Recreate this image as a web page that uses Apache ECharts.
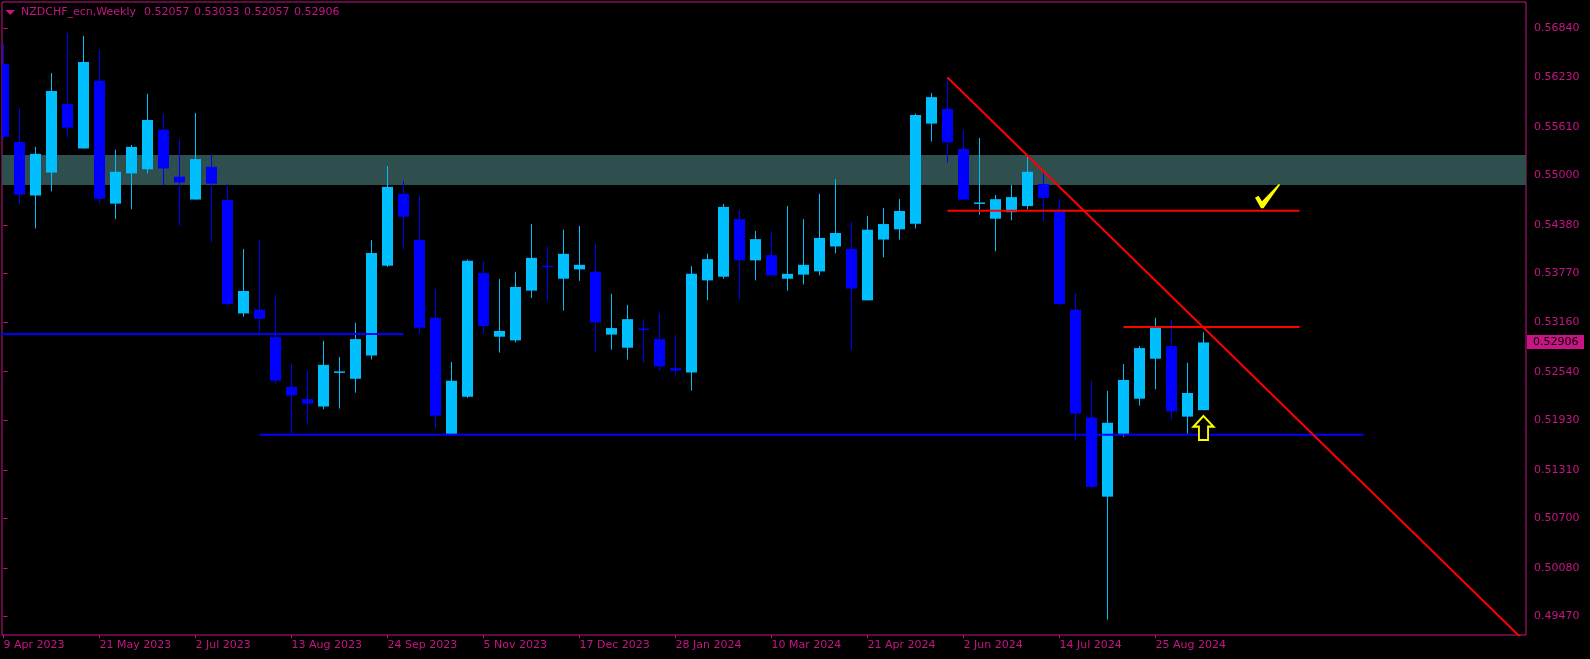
<!DOCTYPE html>
<html><head><meta charset="utf-8">
<script src="https://cdn.jsdelivr.net/npm/echarts@6/dist/echarts.min.js"></script>
<style>html,body{margin:0;padding:0;background:#000;}#c{width:1590px;height:659px;}</style>
</head><body><div id="c"></div>
<script>
const symbolName = "NZDCHF_ecn,Weekly";
const dateLabels = ["9 Apr 2023","21 May 2023","2 Jul 2023","13 Aug 2023","24 Sep 2023","5 Nov 2023","17 Dec 2023","28 Jan 2024","10 Mar 2024","21 Apr 2024","2 Jun 2024","14 Jul 2024","25 Aug 2024"];
const dateLabelBars = [0,6,12,18,24,30,36,42,48,54,60,66,72];
const priceTicks = [0.56840,0.56230,0.55610,0.55000,0.54380,0.53770,0.53160,0.52540,0.51930,0.51310,0.50700,0.50080,0.49470];

const opens = [0.56396,0.55419,0.54748,0.55035,0.55894,0.55337,0.56186,0.54646,0.55025,0.55076,
0.55572,0.54984,0.54697,0.55107,0.54692,0.53270,0.53316,0.52973,0.52349,0.52196,
0.52103,0.52528,0.52451,0.52743,0.53868,0.54769,0.54191,0.53214,0.51761,0.52226,
0.53776,0.52978,0.52932,0.53556,0.53868,0.53705,0.53822,0.53792,0.53004,0.52840,
0.53081,0.52948,0.52584,0.52528,0.53684,0.53730,0.54452,0.53935,0.54001,0.53705,
0.53756,0.53797,0.54109,0.54078,0.53434,0.54196,0.54324,0.54395,0.55649,0.55833,
0.55332,0.54651,0.54457,0.54539,0.54615,0.54892,0.54544,0.53316,0.51965,0.50973,
0.51761,0.52201,0.52702,0.52861,0.51976,0.52057];
const highs = [0.56646,0.55843,0.55357,0.56283,0.56785,0.56749,0.56575,0.55321,0.55383,0.56022,
0.55772,0.55454,0.55782,0.55270,0.54892,0.54078,0.54191,0.53500,0.52636,0.52549,
0.52927,0.52723,0.53152,0.54191,0.55117,0.54933,0.54743,0.53577,0.52661,0.53945,
0.53925,0.53700,0.53792,0.54390,0.54104,0.54319,0.54365,0.54140,0.53515,0.53377,
0.53198,0.53275,0.52999,0.53863,0.54017,0.54641,0.54569,0.54303,0.54293,0.54615,
0.54452,0.54769,0.54953,0.54416,0.54493,0.54590,0.54702,0.55772,0.56033,0.56227,
0.55572,0.55470,0.54754,0.54881,0.55229,0.55025,0.54702,0.53526,0.52426,0.52298,
0.52636,0.52861,0.53214,0.53188,0.52651,0.53033];
const lows = [0.55449,0.54641,0.54334,0.54800,0.55475,0.55337,0.54646,0.54452,0.54575,0.55025,
0.54871,0.54370,0.54697,0.54165,0.53367,0.53229,0.53040,0.52390,0.51761,0.51873,
0.52068,0.52078,0.52277,0.52692,0.53853,0.54073,0.53019,0.51832,0.51761,0.52211,
0.53019,0.52779,0.52907,0.53464,0.53429,0.53306,0.53679,0.52794,0.52815,0.52692,
0.52656,0.52554,0.52492,0.52303,0.53434,0.53705,0.53444,0.53684,0.53746,0.53556,
0.53633,0.53746,0.54022,0.52809,0.53434,0.53971,0.54196,0.54334,0.55424,0.55163,
0.54697,0.54508,0.54048,0.54436,0.54575,0.54421,0.53372,0.51679,0.51085,0.49433,
0.51720,0.52114,0.52318,0.51940,0.51761,0.52057];
const closes = [0.55485,0.54759,0.55270,0.56058,0.55598,0.56421,0.54708,0.55045,0.55357,0.55695,
0.55086,0.54912,0.55204,0.54897,0.53388,0.53551,0.53203,0.52426,0.52242,0.52139,
0.52625,0.52543,0.52948,0.54027,0.54856,0.54482,0.53091,0.51986,0.52426,0.53930,
0.53111,0.53050,0.53602,0.53966,0.53858,0.54017,0.53879,0.53157,0.53086,0.53198,
0.53060,0.52605,0.52554,0.53766,0.53950,0.54605,0.53935,0.54201,0.53746,0.53766,
0.53879,0.54216,0.54278,0.53582,0.54319,0.54390,0.54554,0.55756,0.55981,0.55414,
0.54697,0.54661,0.54702,0.54728,0.55045,0.54718,0.53388,0.52016,0.51096,0.51899,
0.52436,0.52835,0.53091,0.52042,0.52272,0.52906];

// zone (support/resistance band)
const zoneTop = 0.55254, zoneBottom = 0.54881;
// horizontal levels
const blueLevels = [0.53011, 0.51750];
const blueFrom = [-0.2, 16];
const blueTo = [25, 85];
const redLevels = [0.54556, 0.53101];
const redFrom = [59, 70];
const redTo = [81, 81];
// trend line
const trendStart = [59, 0.56227];
const trendEnd = [95.2, 0.49135];
// annotations
const arrowPoint = [75, 0.51834];
const checkPoint = [79, 0.54742];

const AXIS_COLOR = '#C71585';
const BULL = '#00BFFF', BEAR = '#0000FF';
const FONT = '"DejaVu Sans", sans-serif';

const candleData = opens.map((o, i) => [i, o, closes[i], lows[i], highs[i]]);

const X_MIN = -0.09375, X_MAX = X_MIN + 1524 / 16;
const Y_MIN = 0.49239, Y_MAX = Y_MIN + 633 / 7978;

const chart = echarts.init(document.getElementById('c'), null, {renderer: 'canvas'});

const series = [];
series.push({
  type: 'custom', z: 1, clip: true, silent: true,
  data: [[zoneTop, zoneBottom]],
  renderItem: function (params, api) {
    const cs = params.coordSys;
    const t = api.coord([0, api.value(0)])[1];
    const b = api.coord([0, api.value(1)])[1];
    return {type: 'rect', shape: {x: cs.x, y: t, width: cs.width, height: b - t}, style: {fill: '#2F4F4F'}};
  }
});
series.push({
  type: 'custom', z: 2, clip: true, silent: true,
  encode: {x: 0, y: [1, 2, 3, 4]},
  data: candleData,
  renderItem: function (params, api) {
    const i = api.value(0), o = api.value(1), c = api.value(2), l = api.value(3), h = api.value(4);
    const pO = api.coord([i, o]), pC = api.coord([i, c]), pL = api.coord([i, l]), pH = api.coord([i, h]);
    const x = pO[0];
    const top = Math.min(pO[1], pC[1]);
    const bot = Math.max(pO[1], pC[1]);
    const color = c >= o ? BULL : BEAR;
    return {type: 'group', children: [
      {type: 'line', shape: {x1: x, y1: pH[1], x2: x, y2: pL[1]}, style: {stroke: color, lineWidth: 1}},
      {type: 'rect', shape: {x: x - 5.5, y: top, width: 11, height: Math.max(bot - top, 1.5)}, style: {fill: color}}
    ]};
  }
});
blueLevels.forEach((p, k) => series.push({
  type: 'line', z: 3, silent: true, symbol: 'none', clip: true,
  data: [[blueFrom[k], p], [blueTo[k], p]],
  lineStyle: {color: '#0000FF', width: 2}
}));
redLevels.forEach((p, k) => series.push({
  type: 'line', z: 3, silent: true, symbol: 'none', clip: true,
  data: [[redFrom[k], p], [redTo[k], p]],
  lineStyle: {color: '#FF0000', width: 2}
}));
series.push({
  type: 'line', z: 3, silent: true, symbol: 'none', clip: true,
  data: [trendStart, trendEnd],
  lineStyle: {color: '#FF0000', width: 2}
});
series.push({
  type: 'scatter', z: 4, silent: true,
  data: [arrowPoint],
  symbol: 'path://M11,0 L22,11.5 L16,11.5 L16,26 L6,26 L6,11.5 L0,11.5 Z',
  symbolSize: [20, 24],
  itemStyle: {color: '#000000', borderColor: '#FFFF00', borderWidth: 2, opacity: 1}
});
series.push({
  type: 'scatter', z: 4, silent: true,
  data: [checkPoint],
  symbol: 'path://M0,14 L3.5,12 L7,17.5 L24,0 L25,1.2 L8.5,24.5 L6,24.5 Z',
  symbolSize: [25, 24.5],
  itemStyle: {color: '#FFFF00', opacity: 1}
});

const titleVals = [opens[75], highs[75], lows[75], closes[75]].map(v => v.toFixed(5));
const graphics = [
  {type: 'polygon', shape: {points: [[5.5, 10], [15, 10], [10.25, 15]]}, style: {fill: AXIS_COLOR}, z: 10},
  {type: 'text', x: 21, y: 12.5, style: {text: symbolName, fill: AXIS_COLOR, font: '11px ' + FONT, verticalAlign: 'middle'}, z: 10}
];
titleVals.forEach((t, k) => graphics.push({type: 'text', x: 144 + 50 * k, y: 12.5, style: {text: t, fill: AXIS_COLOR, font: '11px ' + FONT, verticalAlign: 'middle'}, z: 10}));

chart.setOption({
  backgroundColor: '#000000',
  animation: false,
  grid: {left: 2, right: 64, top: 2, bottom: 24, show: true, borderColor: AXIS_COLOR, borderWidth: 1, backgroundColor: '#000000', containLabel: false},
  xAxis: {
    type: 'value', min: X_MIN, max: X_MAX,
    splitLine: {show: false}, axisLine: {show: false},
    axisTick: {show: true, length: 3, customValues: dateLabelBars, lineStyle: {color: AXIS_COLOR}},
    axisLabel: {
      customValues: dateLabelBars, color: AXIS_COLOR, fontSize: 11, fontFamily: FONT, margin: 5, align: 'left',
      formatter: function (v) { const k = dateLabelBars.indexOf(Math.round(v)); return k >= 0 ? dateLabels[k] : ''; }
    }
  },
  yAxis: {
    type: 'value', position: 'right', min: Y_MIN, max: Y_MAX, scale: true,
    splitLine: {show: false}, axisLine: {show: false},
    axisTick: {show: true, length: 4, customValues: priceTicks, lineStyle: {color: AXIS_COLOR}},
    axisLabel: {customValues: priceTicks, color: AXIS_COLOR, fontSize: 11, fontFamily: FONT, margin: 8,
      formatter: function (v) { return v.toFixed(5); }}
  },
  series: series,
  graphic: graphics
});

const py = chart.convertToPixel({gridIndex: 0}, [75, closes[75]])[1];
graphics.push({type: 'rect', shape: {x: 1527, y: Math.round(py) - 7, width: 57, height: 14}, style: {fill: AXIS_COLOR}, z: 10});
graphics.push({type: 'text', x: 1533, y: Math.round(py), style: {text: closes[75].toFixed(5), fill: '#000000', font: '11px ' + FONT, verticalAlign: 'middle'}, z: 11});
chart.setOption({graphic: graphics});
</script>
</body></html>
